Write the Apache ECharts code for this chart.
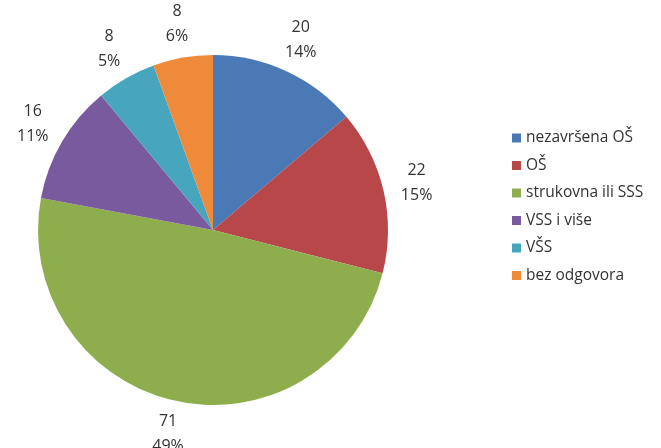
<!DOCTYPE html>
<html>
<head>
<meta charset="utf-8">
<script src="https://cdn.jsdelivr.net/npm/echarts@6/dist/echarts.min.js"></script>
<style>
html,body{margin:0;padding:0;background:#fff;}
#main{width:661px;height:448px;}
</style>
</head>
<body>
<div id="main"></div>
<script>
const categories = ['nezavršena OŠ', 'OŠ', 'strukovna ili SSS', 'VSS i više', 'VŠS', 'bez odgovora'];
const values = [20, 22, 71, 16, 8, 8];
const percentLabels = ['14%', '15%', '49%', '11%', '5%', '6%'];
const colors = ['#4A79B6', '#B8474A', '#8EAE4E', '#7A5A9E', '#47A5BE', '#EE8A3A'];

const CX = 213, CY = 230, RADIUS = 175, LABEL_R = 209;
const total = values.reduce((a, b) => a + b, 0);

const chart = echarts.init(document.getElementById('main'));
chart.setOption({
  backgroundColor: '#ffffff',
  animation: false,
  color: colors,
  legend: {
    orient: 'vertical',
    left: 507,
    top: 125,
    itemWidth: 9,
    itemHeight: 9,
    itemGap: 11.5,
    icon: 'rect',
    textStyle: { fontFamily: 'Open Sans', fontSize: 15.5, color: '#333333' },
    data: categories
  },
  series: [{
    type: 'pie',
    center: [CX, CY],
    radius: RADIUS,
    startAngle: 90,
    clockwise: true,
    avoidLabelOverlap: false,
    itemStyle: { borderWidth: 0 },
    emphasis: { disabled: true },
    labelLine: { show: false },
    label: {
      show: true,
      position: 'outside',
      fontFamily: 'Open Sans',
      fontSize: 16,
      lineHeight: 25,
      color: '#333333',
      align: 'center',
      formatter: p => p.value + '\n' + percentLabels[p.dataIndex]
    },
    labelLayout: function (params) {
      const i = params.dataIndex;
      let start = 0;
      for (let k = 0; k < i; k++) start += values[k];
      const mid = (start + values[i] / 2) / total * Math.PI * 2;
      return {
        x: CX + LABEL_R * Math.sin(mid),
        y: CY - LABEL_R * Math.cos(mid),
        align: 'center',
        verticalAlign: 'middle'
      };
    },
    data: categories.map((c, i) => ({ name: c, value: values[i] }))
  }]
});
</script>
</body>
</html>
